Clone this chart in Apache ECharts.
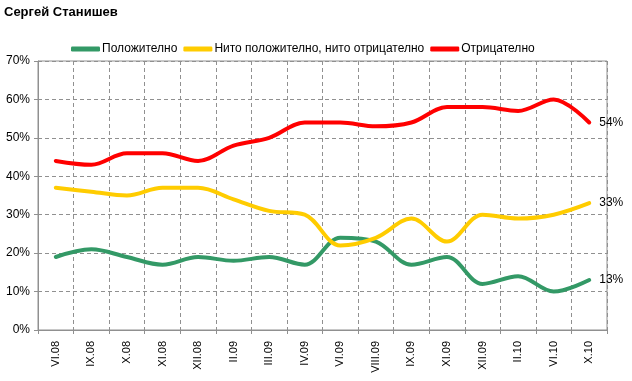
<!DOCTYPE html>
<html><head><meta charset="utf-8">
<script src="https://cdn.jsdelivr.net/npm/echarts@6/dist/echarts.min.js"></script>
<style>html,body{margin:0;padding:0;background:#fff}#c{width:632px;height:381px}</style>
</head><body><div id="c"></div>
<script>
var categories = ['VI.08','IX.08','X.08','XI.08','XII.08','II.09','III.09','IV.09','VI.09','VIII.09','IX.09','XI.09','XII.09','II.10','VI.10','X.10'];
var positive = [19,21,19,17,19,18,19,17,24,23,17,19,12,14,10,13];
var neutral = [37,36,35,37,37,34,31,30,22,24,29,23,30,29,30,33];
var negative = [44,43,46,46,44,48,50,54,54,53,54,58,58,57,60,54];
var seriesNames = ['Положително','Нито положително, нито отрицателно','Отрицателно'];
var colors = ['#339966','#FFCC00','#FF0000'];
var font = 'Liberation Sans, Arial, sans-serif';

function mk(name, data, color){
  return {
    name: name, type: 'line', smooth: 0.35, symbol: 'none', data: data,
    lineStyle: {width: 4, color: color, cap: 'round'},
    itemStyle: {color: color},
    endLabel: {show: true, distance: 10, formatter: '{c}%', color: '#000', fontSize: 12, fontFamily: font},
    emphasis: {disabled: true}
  };
}
var chart = echarts.init(document.getElementById('c'), null, {renderer: 'canvas'});
chart.setOption({
  animation: false,
  backgroundColor: '#fff',
  title: {text: 'Сергей Станишев', left: 4, top: 6, padding: 0, textStyle: {fontSize: 13, fontWeight: 'bold', color: '#000', fontFamily: font}},
  legend: {
    top: 38, left: 66, itemWidth: 29, itemHeight: 5, itemGap: 6, icon: 'roundRect',
    textStyle: {fontSize: 12, color: '#000', fontFamily: font, padding: [0,0,0,-3]},
    data: seriesNames
  },
  grid: {left: 38, top: 61, right: 25, bottom: 51, show: true, borderColor: '#909090', borderWidth: 1},
  xAxis: {
    type: 'category', data: categories, boundaryGap: true,
    axisLine: {lineStyle: {color: '#909090'}},
    axisTick: {show: true, length: 4, lineStyle: {color: '#909090'}},
    axisLabel: {rotate: 90, fontSize: 11, color: '#000', fontFamily: font, margin: 11},
    splitLine: {show: true, lineStyle: {color: '#909090', type: [4,3]}}
  },
  yAxis: {
    type: 'value', min: 0, max: 70, interval: 10,
    axisLine: {show: true, lineStyle: {color: '#909090'}},
    axisTick: {show: true, length: 4, lineStyle: {color: '#909090'}},
    axisLabel: {formatter: '{value}%', fontSize: 12, color: '#000', fontFamily: font, margin: 8},
    splitLine: {show: true, lineStyle: {color: '#909090', type: [4,3]}}
  },
  series: [mk(seriesNames[0], positive, colors[0]), mk(seriesNames[1], neutral, colors[1]), mk(seriesNames[2], negative, colors[2])]
});
</script></body></html>
